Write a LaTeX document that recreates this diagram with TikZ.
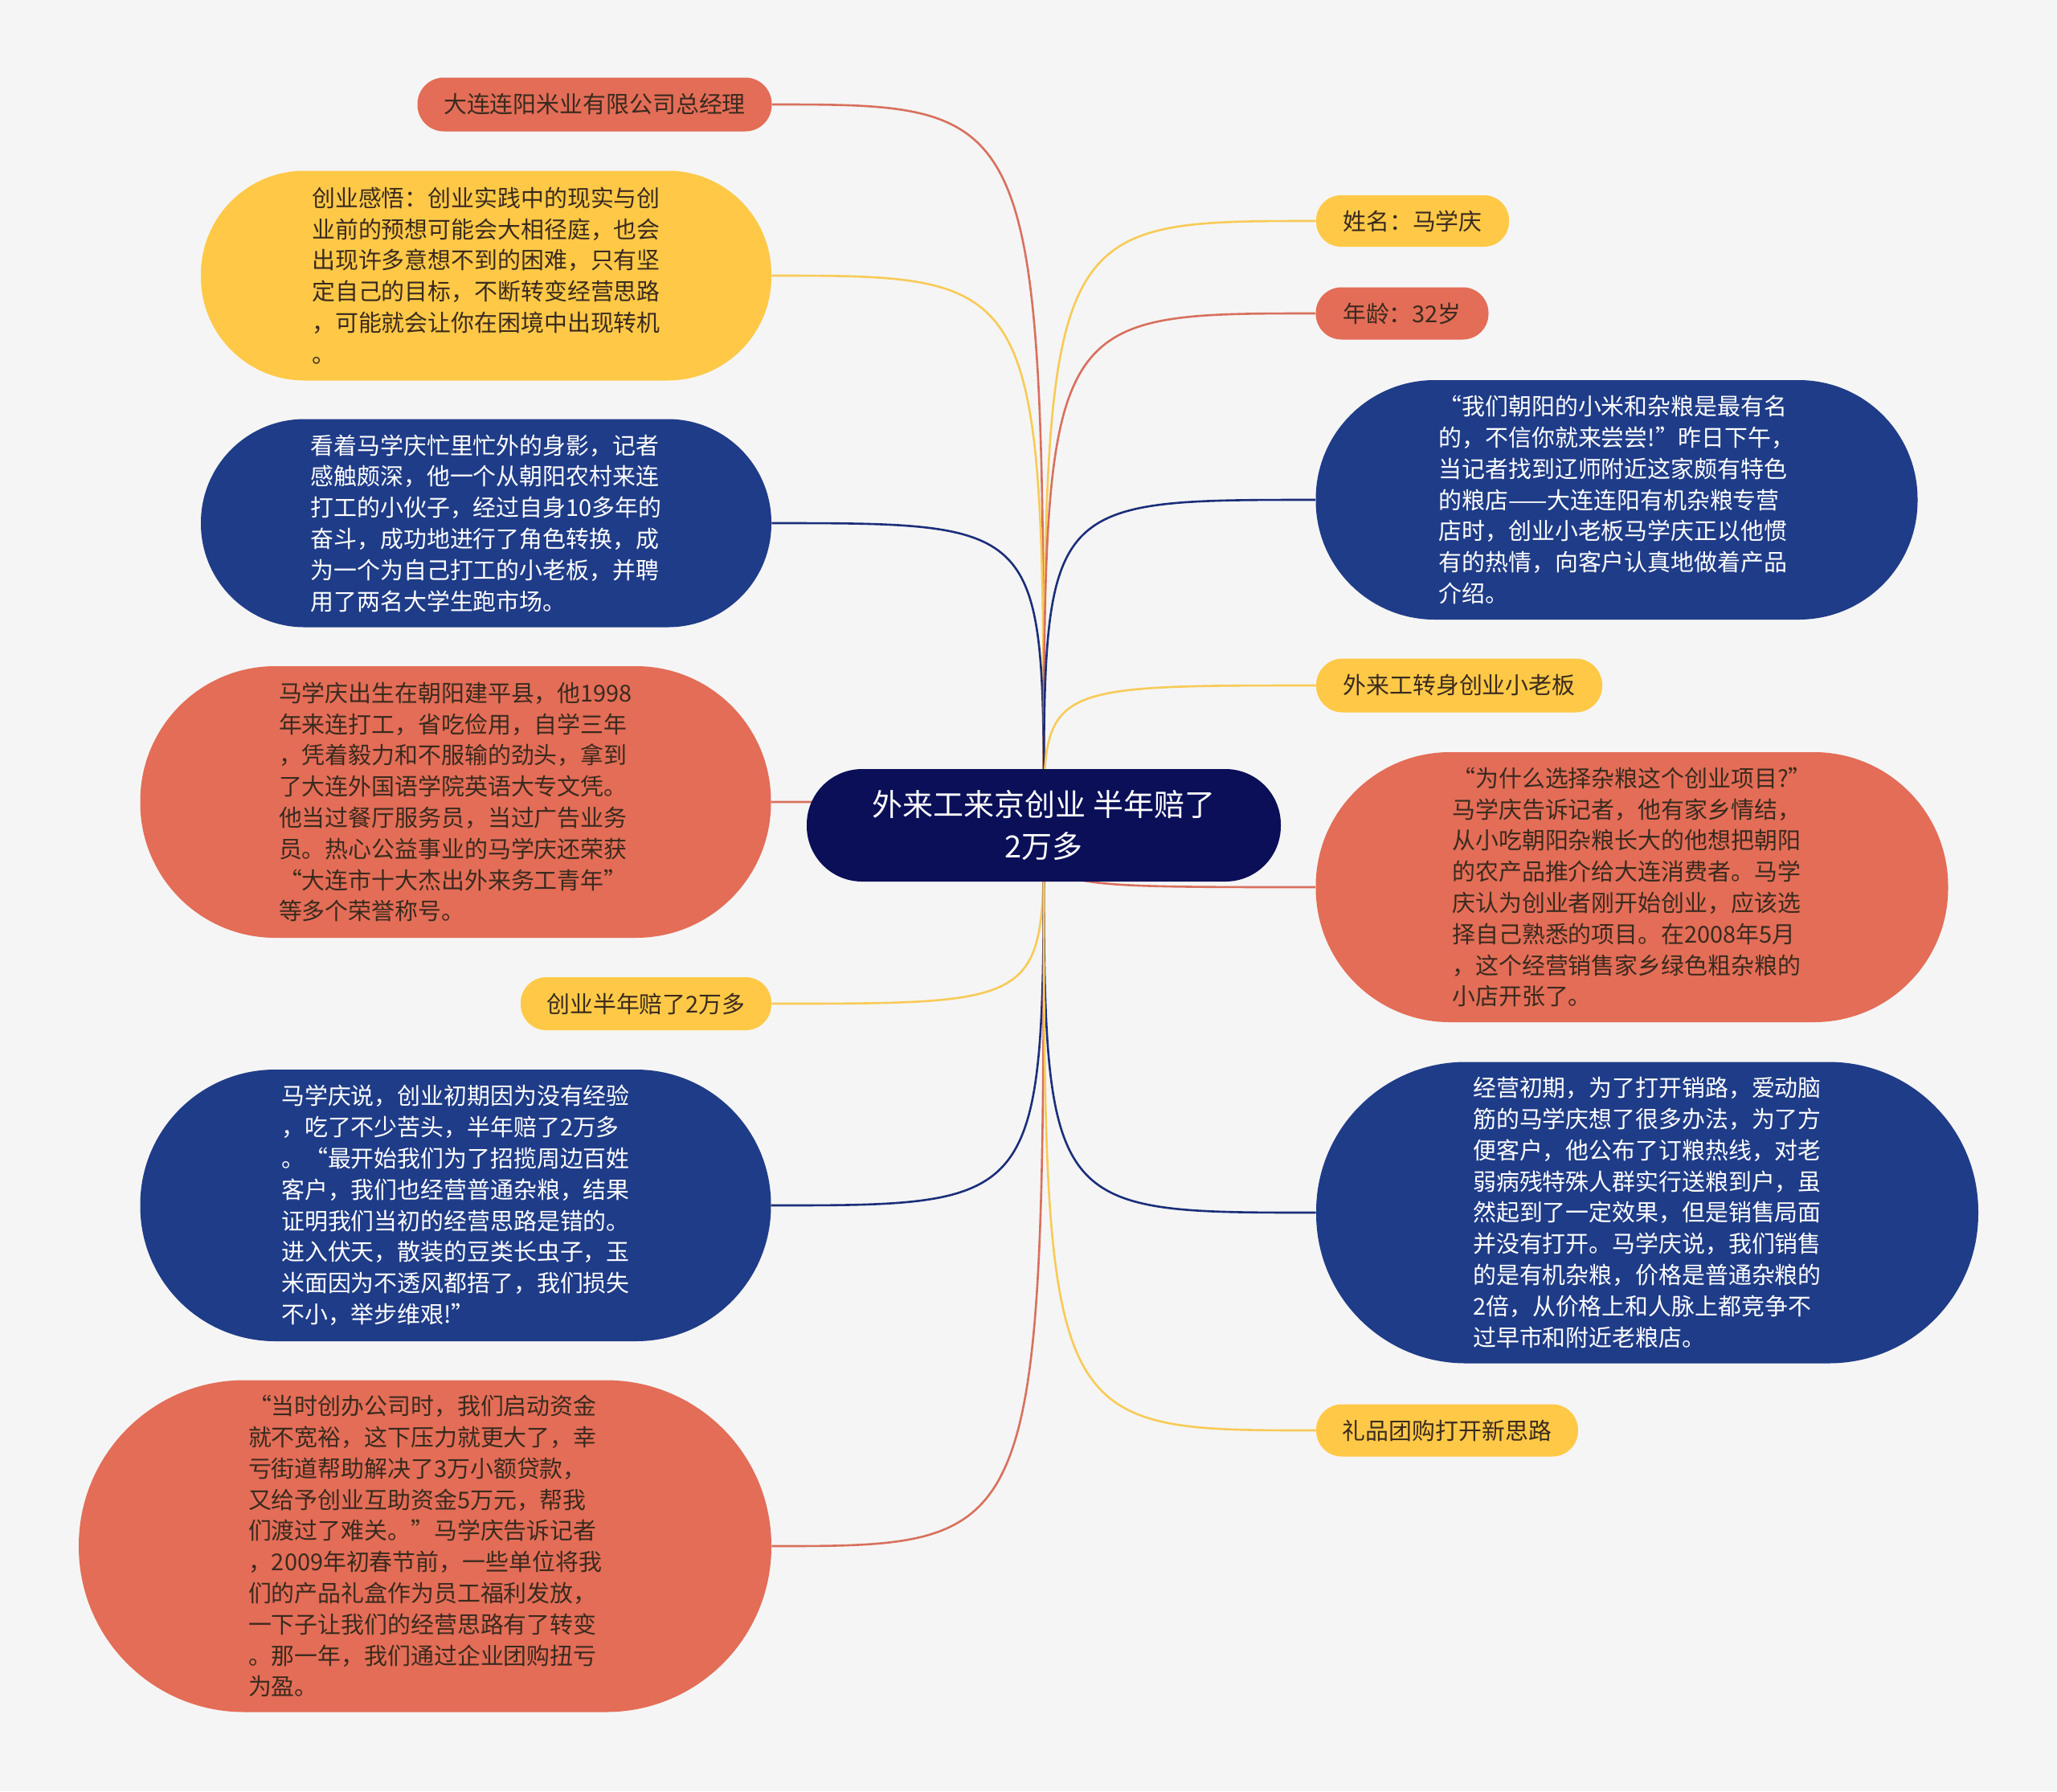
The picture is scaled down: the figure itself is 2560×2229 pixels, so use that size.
\documentclass[tikz,border=0pt]{standalone}
\usepackage{fontspec}
\setmainfont{Noto Sans CJK SC}
\definecolor{bgcol}{HTML}{F5F5F5}
\definecolor{redfill}{HTML}{E36D57}
\definecolor{yellowfill}{HTML}{FFC947}
\definecolor{bluefill}{HTML}{1F3C88}
\definecolor{navyfill}{HTML}{0A0F58}
\definecolor{redline}{HTML}{D8705D}
\definecolor{yellowline}{HTML}{F8CB57}
\definecolor{blueline}{HTML}{1B2E7A}
\definecolor{darktext}{HTML}{3A2A1E}
\pgfdeclarelayer{bg}
\pgfdeclarelayer{links}
\pgfsetlayers{bg,links,main}
\begin{document}
\begin{tikzpicture}[x=0.5pt,y=0.5pt,yscale=-1,xscale=1,
  topic/.style={rounded corners=#1, inner sep=0pt, align=left, font=\fontsize{14.45}{19.4}\selectfont},
  redbox/.style={topic=#1, fill=redfill, text=darktext},
  yellowbox/.style={topic=#1, fill=yellowfill, text=darktext},
  bluebox/.style={topic=#1, fill=bluefill, text=white},
  redlink/.style={draw=redline, line width=1.3pt},
  yellowlink/.style={draw=yellowline, line width=1.3pt},
  bluelink/.style={draw=blueline, line width=1.3pt}]
\useasboundingbox (0,0) rectangle (2560,2229);
\begin{pgfonlayer}{bg}
\fill[bgcol] (0,0) rectangle (2560,2229);
\end{pgfonlayer}
\node[topic=34.5pt, fill=navyfill, text=white, align=center, minimum width=295pt, minimum height=70pt, font=\fontsize{19}{26}\selectfont] (hub) at (1299,1027) {外来工来京创业 半年赔了\\2万多};
\node[redbox=16.5pt, minimum width=220.5pt, minimum height=33.5pt] (manager) at (740,130) {大连连阳米业有限公司总经理};
\node[yellowbox=64.5pt, minimum width=355pt, minimum height=130.5pt] (insight) at (605,343) {创业感悟：创业实践中的现实与创\\业前的预想可能会大相径庭，也会\\出现许多意想不到的困难，只有坚\\定自己的目标，不断转变经营思路\\，可能就会让你在困境中出现转机\\。};
\node[bluebox=64.5pt, minimum width=355pt, minimum height=129.5pt] (busy) at (605,651) {看着马学庆忙里忙外的身影，记者\\感触颇深，他一个从朝阳农村来连\\打工的小伙子，经过自身10多年的\\奋斗，成功地进行了角色转换，成\\为一个为自己打工的小老板，并聘\\用了两名大学生跑市场。};
\node[redbox=84pt, minimum width=392.5pt, minimum height=169pt] (born) at (567,998) {马学庆出生在朝阳建平县，他1998\\年来连打工，省吃俭用，自学三年\\，凭着毅力和不服输的劲头，拿到\\了大连外国语学院英语大专文凭。\\他当过餐厅服务员，当过广告业务\\员。热心公益事业的马学庆还荣获\\“大连市十大杰出外来务工青年”\\等多个荣誉称号。};
\node[yellowbox=16pt, minimum width=156pt, minimum height=33pt] (loss) at (804,1249) {创业半年赔了2万多};
\node[bluebox=84pt, minimum width=392.5pt, minimum height=169pt] (said) at (567,1500) {马学庆说，创业初期因为没有经验\\，吃了不少苦头，半年赔了2万多\\。“最开始我们为了招揽周边百姓\\客户，我们也经营普通杂粮，结果\\证明我们当初的经营思路是错的。\\进入伏天，散装的豆类长虫子，玉\\米面因为不透风都捂了，我们损失\\不小，举步维艰!”};
\node[redbox=103pt, minimum width=431pt, minimum height=206.5pt] (funds) at (529,1924) {“当时创办公司时，我们启动资金\\就不宽裕，这下压力就更大了，幸\\亏街道帮助解决了3万小额贷款，\\又给予创业互助资金5万元，帮我\\们渡过了难关。”马学庆告诉记者\\，2009年初春节前，一些单位将我\\们的产品礼盒作为员工福利发放，\\一下子让我们的经营思路有了转变\\。那一年，我们通过企业团购扭亏\\为盈。};
\node[yellowbox=15.5pt, minimum width=120pt, minimum height=32pt] (name) at (1758,275) {姓名：马学庆};
\node[redbox=16pt, minimum width=107.5pt, minimum height=32.5pt] (age) at (1745,390) {年龄：32岁};
\node[bluebox=74pt, minimum width=374.5pt, minimum height=149pt] (taste) at (2012,622) {“我们朝阳的小米和杂粮是最有名\\的，不信你就来尝尝!”昨日下午，\\当记者找到辽师附近这家颇有特色\\的粮店——大连连阳有机杂粮专营\\店时，创业小老板马学庆正以他惯\\有的热情，向客户认真地做着产品\\介绍。};
\node[yellowbox=16.5pt, minimum width=178pt, minimum height=33.5pt] (boss) at (1816,853) {外来工转身创业小老板};
\node[redbox=83.5pt, minimum width=393.5pt, minimum height=168pt] (why) at (2031,1104) {“为什么选择杂粮这个创业项目?”\\马学庆告诉记者，他有家乡情结，\\从小吃朝阳杂粮长大的他想把朝阳\\的农产品推介给大连消费者。马学\\庆认为创业者刚开始创业，应该选\\择自己熟悉的项目。在2008年5月\\，这个经营销售家乡绿色粗杂粮的\\小店开张了。};
\node[bluebox=93pt, minimum width=412pt, minimum height=187.5pt] (sales) at (2050,1509) {经营初期，为了打开销路，爱动脑\\筋的马学庆想了很多办法，为了方\\便客户，他公布了订粮热线，对老\\弱病残特殊人群实行送粮到户，虽\\然起到了一定效果，但是销售局面\\并没有打开。马学庆说，我们销售\\的是有机杂粮，价格是普通杂粮的\\2倍，从价格上和人脉上都竞争不\\过早市和附近老粮店。};
\node[yellowbox=16pt, minimum width=163pt, minimum height=32.5pt] (gift) at (1801,1780) {礼品团购打开新思路};
\begin{pgfonlayer}{links}
\draw[redlink] (hub.center) .. controls (hub.center |- manager.east) .. (manager.east);
\draw[yellowlink] (hub.center) .. controls (hub.center |- insight.east) .. (insight.east);
\draw[bluelink] (hub.center) .. controls (hub.center |- busy.east) .. (busy.east);
\draw[redlink] (hub.center) .. controls (hub.center |- born.east) .. (born.east);
\draw[yellowlink] (hub.center) .. controls (hub.center |- loss.east) .. (loss.east);
\draw[bluelink] (hub.center) .. controls (hub.center |- said.east) .. (said.east);
\draw[redlink] (hub.center) .. controls (hub.center |- funds.east) .. (funds.east);
\draw[yellowlink] (hub.center) .. controls (hub.center |- name.west) .. (name.west);
\draw[redlink] (hub.center) .. controls (hub.center |- age.west) .. (age.west);
\draw[bluelink] (hub.center) .. controls (hub.center |- taste.west) .. (taste.west);
\draw[yellowlink] (hub.center) .. controls (hub.center |- boss.west) .. (boss.west);
\draw[redlink] (hub.center) .. controls (hub.center |- why.west) .. (why.west);
\draw[bluelink] (hub.center) .. controls (hub.center |- sales.west) .. (sales.west);
\draw[yellowlink] (hub.center) .. controls (hub.center |- gift.west) .. (gift.west);
\end{pgfonlayer}
\end{tikzpicture}
\end{document}
